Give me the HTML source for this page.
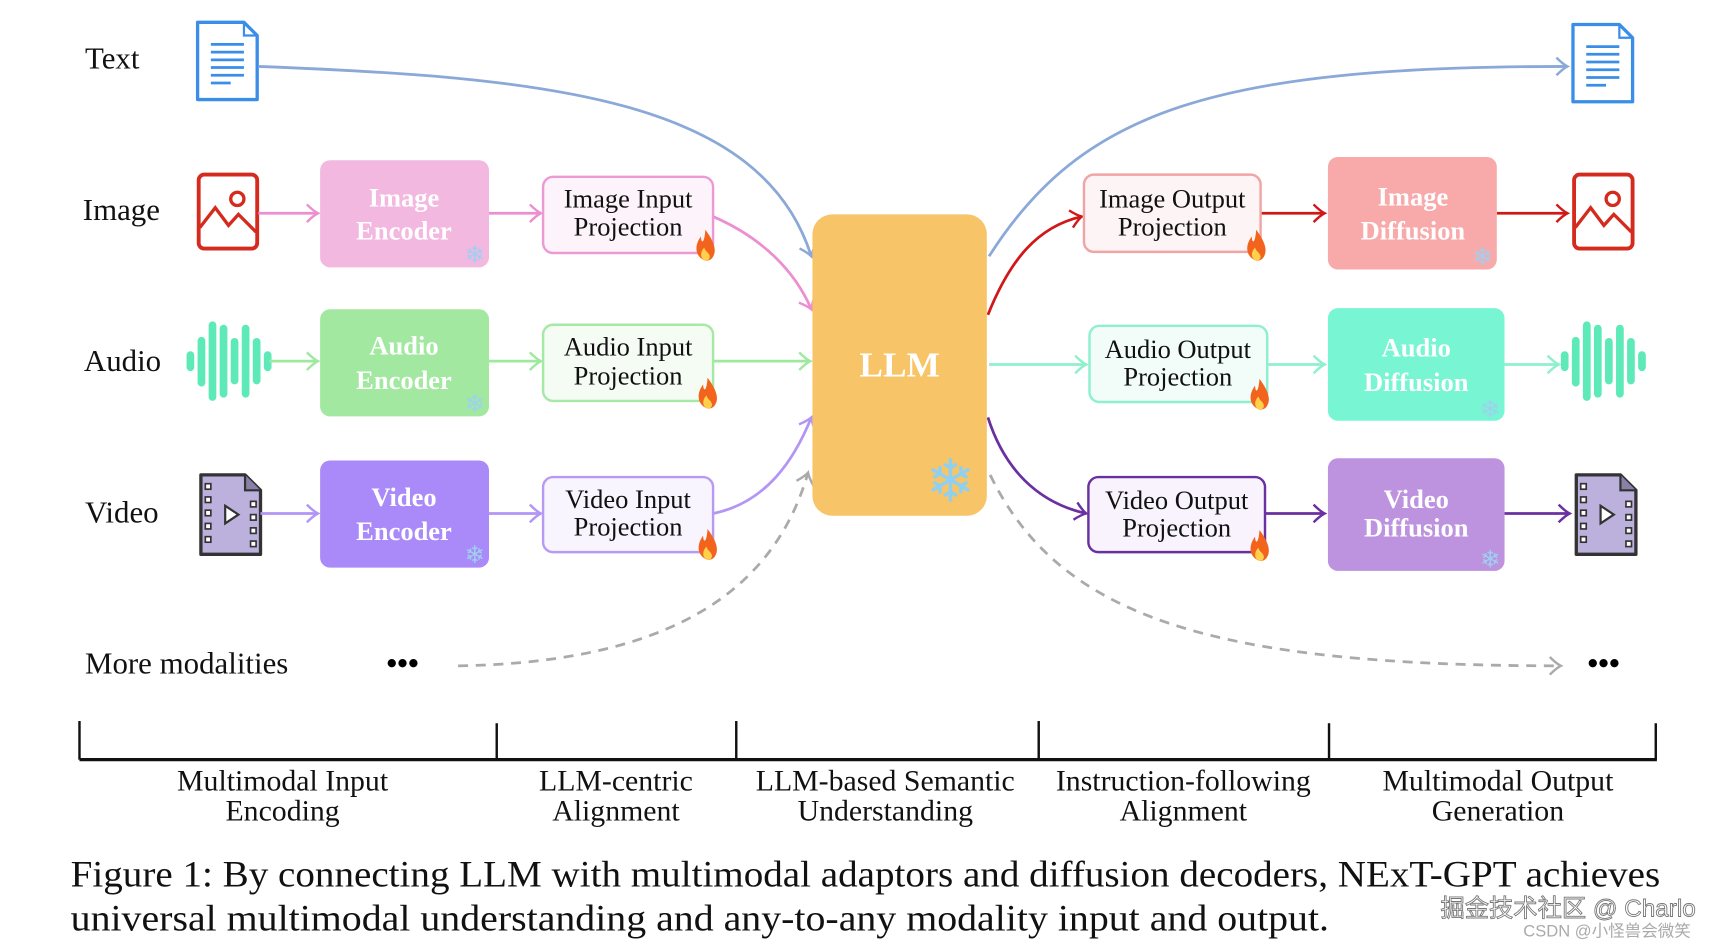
<!DOCTYPE html>
<html><head><meta charset="utf-8"><style>
html,body{margin:0;padding:0;background:#fff;}
svg{display:block;}
text{font-family:"Liberation Serif",serif;}
</style></head><body>
<svg width="1722" height="942" viewBox="0 0 1560 853" xmlns="http://www.w3.org/2000/svg">
<defs>
<marker id="aB" markerWidth="20" markerHeight="20" refX="12" refY="10" orient="auto" markerUnits="userSpaceOnUse"><path d="M2,2 Q8,8 12,10 Q8,12 2,18" fill="none" stroke="#8aa8d8" stroke-width="2.2"/></marker>
<marker id="aP" markerWidth="20" markerHeight="20" refX="12" refY="10" orient="auto" markerUnits="userSpaceOnUse"><path d="M2,2 Q8,8 12,10 Q8,12 2,18" fill="none" stroke="#ec8fd0" stroke-width="2.2"/></marker>
<marker id="aG" markerWidth="20" markerHeight="20" refX="12" refY="10" orient="auto" markerUnits="userSpaceOnUse"><path d="M2,2 Q8,8 12,10 Q8,12 2,18" fill="none" stroke="#9fe8a0" stroke-width="2.2"/></marker>
<marker id="aV" markerWidth="20" markerHeight="20" refX="12" refY="10" orient="auto" markerUnits="userSpaceOnUse"><path d="M2,2 Q8,8 12,10 Q8,12 2,18" fill="none" stroke="#b295f5" stroke-width="2.2"/></marker>
<marker id="aR" markerWidth="20" markerHeight="20" refX="12" refY="10" orient="auto" markerUnits="userSpaceOnUse"><path d="M2,2 Q8,8 12,10 Q8,12 2,18" fill="none" stroke="#d01818" stroke-width="2.2"/></marker>
<marker id="aT" markerWidth="20" markerHeight="20" refX="12" refY="10" orient="auto" markerUnits="userSpaceOnUse"><path d="M2,2 Q8,8 12,10 Q8,12 2,18" fill="none" stroke="#8ef0cc" stroke-width="2.2"/></marker>
<marker id="aD" markerWidth="20" markerHeight="20" refX="12" refY="10" orient="auto" markerUnits="userSpaceOnUse"><path d="M2,2 Q8,8 12,10 Q8,12 2,18" fill="none" stroke="#6a30a0" stroke-width="2.2"/></marker>
<marker id="aX" markerWidth="20" markerHeight="20" refX="12" refY="10" orient="auto" markerUnits="userSpaceOnUse"><path d="M2,2 Q8,8 12,10 Q8,12 2,18" fill="none" stroke="#aaa" stroke-width="2.2"/></marker>
<g id="doc"><path d="M0,0 H42 L54,12 V70 H0 Z" fill="#fff" stroke="#3a8ee8" stroke-width="3" stroke-linejoin="round"/><path d="M42,0 V12 H54" fill="none" stroke="#3a8ee8" stroke-width="2"/><g stroke="#3a8ee8" stroke-width="2.5"><line x1="12" y1="20" x2="42" y2="20"/><line x1="12" y1="27" x2="42" y2="27"/><line x1="12" y1="34" x2="42" y2="34"/><line x1="12" y1="41" x2="42" y2="41"/><line x1="12" y1="48" x2="42" y2="48"/><line x1="12" y1="55" x2="30" y2="55"/></g></g>
<g id="img"><rect x="0" y="0" width="53" height="67" rx="5" fill="none" stroke="#d42b1e" stroke-width="3.5"/><circle cx="35" cy="22" r="6" fill="none" stroke="#d42b1e" stroke-width="3"/><path d="M1,48 L15,30 L27,46 L36,36 L52,52" fill="none" stroke="#d42b1e" stroke-width="3"/></g>
<g id="vid"><path d="M0,0 H40 L54,14 V72 H0 Z" fill="#bcb0dc" stroke="#333" stroke-width="3" stroke-linejoin="round"/><path d="M40,0 V14 H54" fill="#8a80a8" stroke="#333" stroke-width="2"/><g fill="#fff" stroke="#333" stroke-width="1.5"><rect x="4" y="8" width="5" height="5"/><rect x="4" y="20" width="5" height="5"/><rect x="4" y="32" width="5" height="5"/><rect x="4" y="44" width="5" height="5"/><rect x="4" y="56" width="5" height="5"/><rect x="45" y="24" width="5" height="5"/><rect x="45" y="36" width="5" height="5"/><rect x="45" y="48" width="5" height="5"/><rect x="45" y="60" width="5" height="5"/></g><path d="M22,28 L34,36 L22,44 Z" fill="#fff" stroke="#333" stroke-width="2"/></g>
<g id="wave" fill="#5eeab8"><rect x="0" y="-9" width="7" height="18" rx="3.5"/><rect x="10" y="-22" width="7" height="45" rx="3.5"/><rect x="20" y="-36" width="7" height="72" rx="3.5"/><rect x="30" y="-33" width="7" height="66" rx="3.5"/><rect x="40" y="-21" width="7" height="42" rx="3.5"/><rect x="50" y="-33" width="7" height="66" rx="3.5"/><rect x="60" y="-21" width="7" height="42" rx="3.5"/><rect x="70" y="-9" width="7" height="18" rx="3.5"/></g>
<g id="fire"><path d="M0,14 C-10,10 -10,0 -4,-8 C-4,-2 -1,0 0,-14 C6,-6 10,2 8,8 C6,14 2,14 0,14Z" fill="#f2641e"/><path d="M0,14 C-5,12 -5,6 -1,2 C0,6 3,6 4,10 C4,13 2,14 0,14Z" fill="#ffd04a"/></g>
</defs>

<!-- left labels -->
<g font-size="28" fill="#111">
<text x="77" y="62">Text</text>
<text x="75" y="199">Image</text>
<text x="76" y="336">Audio</text>
<text x="77" y="473">Video</text>
<text x="77" y="610">More modalities</text>
</g>
<text x="350" y="610" font-size="28" font-weight="bold">•••</text>
<text x="1438" y="610" font-size="28" font-weight="bold">•••</text>

<!-- icons -->
<use href="#doc" x="179" y="20"/>
<use href="#doc" x="1425" y="22"/>
<use href="#img" x="180" y="158"/>
<use href="#img" x="1426" y="158"/>
<use href="#wave" x="169" y="327"/>
<use href="#wave" x="1414" y="327"/>
<use href="#vid" x="182" y="430"/>
<use href="#vid" x="1428" y="430"/>

<!-- connectors left -->
<g fill="none" stroke-width="2.5">
<path d="M234,60 C500,70 690,90 735,232" stroke="#8aa8d8" marker-end="url(#aB)"/>
<line x1="234" y1="193" x2="288" y2="193" stroke="#ec8fd0" marker-end="url(#aP)"/>
<line x1="443" y1="193" x2="490" y2="193" stroke="#ec8fd0" marker-end="url(#aP)"/>
<path d="M646,196 C690,215 720,245 735,280" stroke="#ec8fd0" marker-end="url(#aP)"/>
<line x1="244" y1="327" x2="288" y2="327" stroke="#9fe8a0" marker-end="url(#aG)"/>
<line x1="443" y1="327" x2="490" y2="327" stroke="#9fe8a0" marker-end="url(#aG)"/>
<line x1="646" y1="327" x2="734" y2="327" stroke="#9fe8a0" marker-end="url(#aG)"/>
<line x1="236" y1="465" x2="288" y2="465" stroke="#b295f5" marker-end="url(#aV)"/>
<line x1="443" y1="465" x2="490" y2="465" stroke="#b295f5" marker-end="url(#aV)"/>
<path d="M646,465 C695,455 720,415 735,378" stroke="#b295f5" marker-end="url(#aV)"/>
<path d="M415,603 C600,600 700,540 732,428" stroke="#aaa" stroke-dasharray="9,7" marker-end="url(#aX)"/>
<!-- right -->
<path d="M896,232 C980,100 1100,60 1420,60" stroke="#8aa8d8" marker-end="url(#aB)"/>
<path d="M895,285 C915,235 940,205 980,196" stroke="#d01818" marker-end="url(#aR)"/>
<line x1="1142" y1="193" x2="1200" y2="193" stroke="#d01818" marker-end="url(#aR)"/>
<line x1="1356" y1="193" x2="1420" y2="193" stroke="#d01818" marker-end="url(#aR)"/>
<line x1="896" y1="330" x2="984" y2="330" stroke="#8ef0cc" marker-end="url(#aT)"/>
<line x1="1148" y1="330" x2="1200" y2="330" stroke="#8ef0cc" marker-end="url(#aT)"/>
<line x1="1363" y1="330" x2="1412" y2="330" stroke="#8ef0cc" marker-end="url(#aT)"/>
<path d="M895,378 C910,425 940,455 984,465" stroke="#6a30a0" marker-end="url(#aD)"/>
<line x1="1146" y1="465" x2="1200" y2="465" stroke="#6a30a0" marker-end="url(#aD)"/>
<line x1="1363" y1="465" x2="1422" y2="465" stroke="#6a30a0" marker-end="url(#aD)"/>
<path d="M897,430 C960,560 1100,603 1414,603" stroke="#aaa" stroke-dasharray="9,7" marker-end="url(#aX)"/>
</g>

<!-- encoders -->
<g font-size="24" font-weight="bold" fill="#fff" text-anchor="middle">
<rect x="290" y="145" width="153" height="97" rx="9" fill="#f2b8e0"/>
<text x="366" y="187">Image</text><text x="366" y="217">Encoder</text>
<rect x="290" y="280" width="153" height="97" rx="9" fill="#a2e8a0"/>
<text x="366" y="321">Audio</text><text x="366" y="352">Encoder</text>
<rect x="290" y="417" width="153" height="97" rx="9" fill="#a98af8"/>
<text x="366" y="458">Video</text><text x="366" y="489">Encoder</text>
<rect x="1203" y="142" width="153" height="102" rx="9" fill="#f8aaaa"/>
<text x="1280" y="186">Image</text><text x="1280" y="217">Diffusion</text>
<rect x="1203" y="279" width="160" height="102" rx="9" fill="#78f5d2"/>
<text x="1283" y="323">Audio</text><text x="1283" y="354">Diffusion</text>
<rect x="1203" y="415" width="160" height="102" rx="9" fill="#bd92de"/>
<text x="1283" y="460">Video</text><text x="1283" y="486">Diffusion</text>
</g>

<!-- projections -->
<g font-size="24" fill="#111" text-anchor="middle" stroke-width="2.2">
<rect x="492" y="160" width="154" height="69" rx="9" fill="#fdf3fa" stroke="#ec9ad4"/>
<text x="569" y="188">Image Input</text><text x="569" y="213">Projection</text>
<rect x="492" y="294" width="154" height="69" rx="9" fill="#f5fcf4" stroke="#a6e8a6"/>
<text x="569" y="322">Audio Input</text><text x="569" y="348">Projection</text>
<rect x="492" y="432" width="154" height="68" rx="9" fill="#f8f5fe" stroke="#b89af5"/>
<text x="569" y="460">Video Input</text><text x="569" y="485">Projection</text>
<rect x="982" y="158" width="160" height="70" rx="9" fill="#fdf5f5" stroke="#f0a4a4"/>
<text x="1062" y="188">Image Output</text><text x="1062" y="213">Projection</text>
<rect x="987" y="295" width="161" height="69" rx="9" fill="#f2fdf9" stroke="#8ef0cc"/>
<text x="1067" y="324">Audio Output</text><text x="1067" y="349">Projection</text>
<rect x="986" y="432" width="160" height="68" rx="9" fill="#f8f3fc" stroke="#6a30a0"/>
<text x="1066" y="461">Video Output</text><text x="1066" y="486">Projection</text>
</g>

<!-- flames -->
<use href="#fire" x="639" y="222"/>
<use href="#fire" x="641" y="356"/>
<use href="#fire" x="641" y="493"/>
<use href="#fire" x="1138" y="222"/>
<use href="#fire" x="1141" y="357"/>
<use href="#fire" x="1141" y="494"/>

<!-- snowflakes -->
<g fill="#9fd0f0" font-family="DejaVu Sans" text-anchor="middle">
<text x="430" y="238" font-size="22">❄</text>
<text x="430" y="373" font-size="22">❄</text>
<text x="430" y="510" font-size="22">❄</text>
<text x="1343" y="240" font-size="22">❄</text>
<text x="1350" y="378" font-size="22">❄</text>
<text x="1350" y="514" font-size="22">❄</text>
</g>

<!-- LLM -->
<rect x="736" y="194" width="158" height="273" rx="18" fill="#f8c468"/>
<text x="815" y="341" font-size="32" font-weight="bold" fill="#fff" text-anchor="middle">LLM</text>
<text x="861" y="454" font-size="54" fill="#8fd0f0" font-family="DejaVu Sans" text-anchor="middle">❄</text>

<!-- bracket -->
<g stroke="#111" stroke-width="2.2" fill="none">
<line x1="72" y1="688" x2="1501" y2="688" stroke-width="3"/>
<line x1="72" y1="653" x2="72" y2="688"/>
<line x1="450" y1="655" x2="450" y2="688"/>
<line x1="667" y1="653" x2="667" y2="688"/>
<line x1="941" y1="653" x2="941" y2="688"/>
<line x1="1204" y1="655" x2="1204" y2="688"/>
<line x1="1500" y1="655" x2="1500" y2="688"/>
</g>
<g font-size="27" fill="#111" text-anchor="middle">
<text x="256" y="716">Multimodal Input</text><text x="256" y="743">Encoding</text>
<text x="558" y="716">LLM-centric</text><text x="558" y="743">Alignment</text>
<text x="802" y="716">LLM-based Semantic</text><text x="802" y="743">Understanding</text>
<text x="1072" y="716">Instruction-following</text><text x="1072" y="743">Alignment</text>
<text x="1357" y="716">Multimodal Output</text><text x="1357" y="743">Generation</text>
</g>
<g font-size="33.5" fill="#111">
<text x="64" y="803" textLength="1440" lengthAdjust="spacingAndGlyphs">Figure 1: By connecting LLM with multimodal adaptors and diffusion decoders, NExT-GPT achieves</text>
<text x="64" y="843" textLength="1140" lengthAdjust="spacingAndGlyphs">universal multimodal understanding and any-to-any modality input and output.</text>
</g>
<text x="1305" y="830" font-size="22" fill="#fff" stroke="#777" stroke-width="0.8" style='font-family:"Liberation Sans","Noto Sans CJK SC",sans-serif'>掘金技术社区 @ Charlo</text>
<text x="1380" y="848" font-size="15" fill="#aaa" style='font-family:"Liberation Sans","Noto Sans CJK SC",sans-serif'>CSDN @小怪兽会微笑</text>
</svg>
</body></html>
